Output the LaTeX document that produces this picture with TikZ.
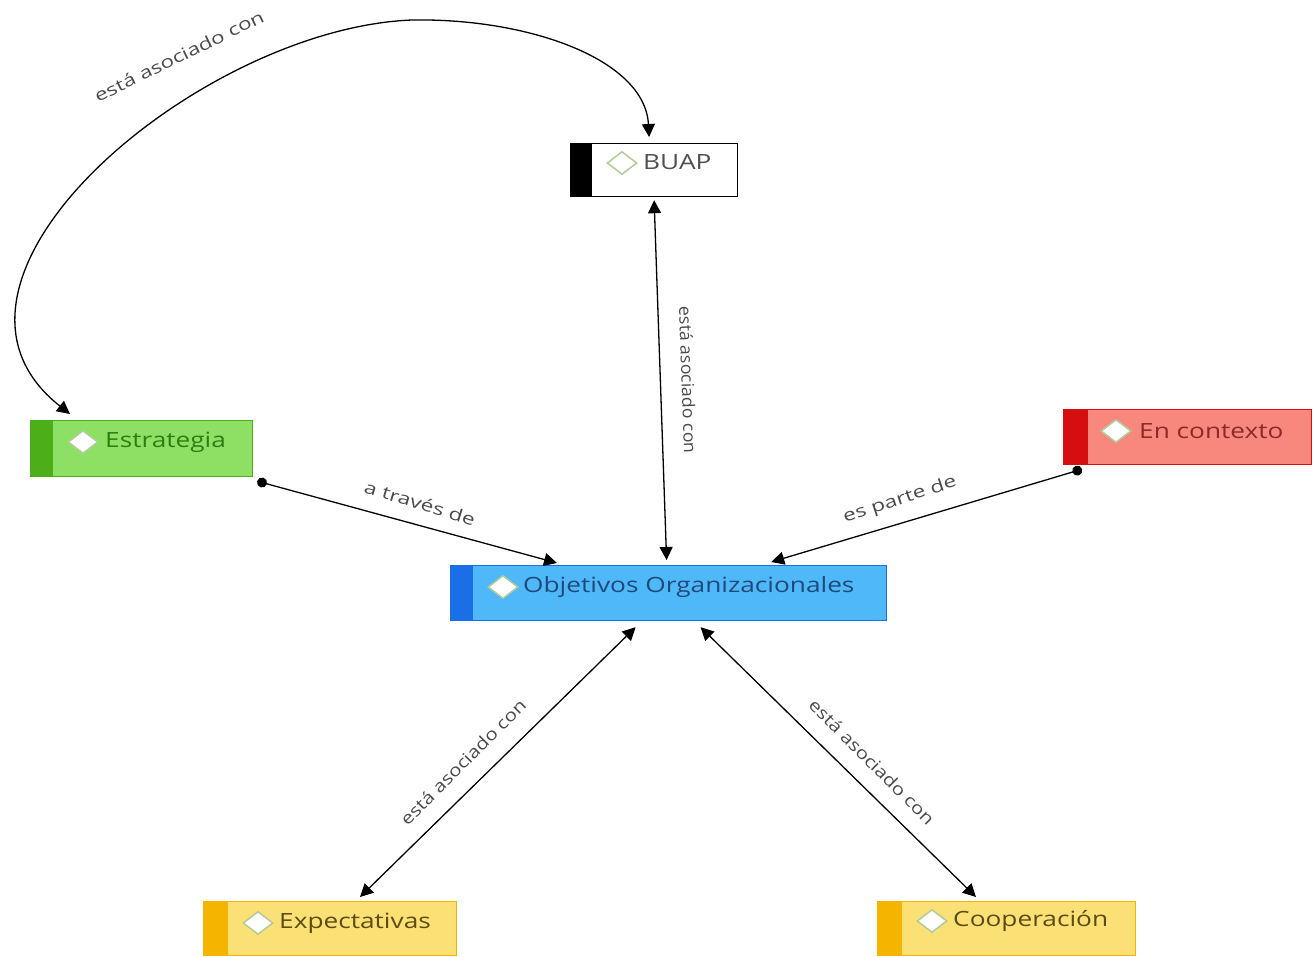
\documentclass[tikz,border=0pt]{standalone}
\usepackage{fontspec}
\usepackage{graphicx}
\setmainfont{Open Sans}
\usetikzlibrary{arrows.meta,shapes.geometric}
\definecolor{estfill}{HTML}{8EE065}
\definecolor{estbar}{HTML}{4CAF1A}
\definecolor{esttxt}{HTML}{2E7D12}
\definecolor{objfill}{HTML}{4FB8F8}
\definecolor{objbar}{HTML}{1A6FE8}
\definecolor{objtxt}{HTML}{1D4A7A}
\definecolor{ctxfill}{HTML}{F8877D}
\definecolor{ctxbar}{HTML}{D50F0F}
\definecolor{ctxtxt}{HTML}{8A2A2A}
\definecolor{yelfill}{HTML}{FBE075}
\definecolor{yelbar}{HTML}{F5B400}
\definecolor{yeltxt}{HTML}{5C4B12}
\definecolor{buaptxt}{HTML}{505050}
\definecolor{diaedge}{HTML}{B2CC98}
\definecolor{lblgray}{HTML}{4A4A4A}
\newcommand\wideTxt[1]{\scalebox{1.25}[1]{#1}}
\newcommand\wideLbl[2]{\scalebox{#1}[1]{#2}}
\begin{document}
\begin{tikzpicture}[x=1pt,y=-1pt,
  box/.style={draw, line width=1.2pt, anchor=north west, inner sep=0pt},
  dia/.style={diamond, draw=diaedge, fill=white, line width=1.5pt, minimum width=30pt, minimum height=23pt, inner sep=0pt},
  ntxt/.style={anchor=west, font=\fontsize{21}{24}\selectfont, inner sep=0pt},
  lbl/.style={font=\fontsize{17}{20}\selectfont, text=lblgray, inner sep=0pt},
  conn/.style={line width=1.3pt, black},
  tip/.tip={Triangle[length=13pt,width=13pt]},
  dot/.tip={Circle[length=10pt]}]
\useasboundingbox (0,0) rectangle (1313,956);
% BUAP
\node[box, fill=white, draw=black, minimum width=167pt, minimum height=53pt] (buap) at (570,143) {};
\fill[black] (buap.north west) rectangle ([xshift=22pt]buap.south west);
\node[dia] (buapd) at (622,163) {};
\node[ntxt, text=buaptxt] (buapt) at (643,162) {\wideTxt{BUAP}};
% Estrategia
\node[box, fill=estfill, draw=estbar, minimum width=222pt, minimum height=56pt] (est) at (30,420) {};
\fill[estbar] (est.north west) rectangle ([xshift=23pt]est.south west);
\node[dia] (estd) at (83,442) {};
\node[ntxt, text=esttxt] (estt) at (105,442) {\wideTxt{Estrategia}};
% Objetivos
\node[box, fill=objfill, draw=objbar, minimum width=436pt, minimum height=55pt] (obj) at (450,565) {};
\fill[objbar] (obj.north west) rectangle ([xshift=23pt]obj.south west);
\node[dia] (objd) at (503,587) {};
\node[ntxt, text=objtxt] (objt) at (523,587) {\wideTxt{Objetivos Organizacionales}};
% En contexto
\node[box, fill=ctxfill, draw=ctxbar, minimum width=248pt, minimum height=55pt] (ctx) at (1063,409) {};
\fill[ctxbar] (ctx.north west) rectangle ([xshift=25pt]ctx.south west);
\node[dia] (ctxd) at (1116,431) {};
\node[ntxt, text=ctxtxt] (ctxt) at (1139,431) {\wideTxt{En contexto}};
% Expectativas
\node[box, fill=yelfill, draw=yelbar, minimum width=253pt, minimum height=54pt] (exp) at (203,901) {};
\fill[yelbar] (exp.north west) rectangle ([xshift=25pt]exp.south west);
\node[dia] (expd) at (258,923) {};
\node[ntxt, text=yeltxt] (expt) at (279,923) {\wideTxt{Expectativas}};
% Cooperacion
\node[box, fill=yelfill, draw=yelbar, minimum width=258pt, minimum height=54pt] (coop) at (877,901) {};
\fill[yelbar] (coop.north west) rectangle ([xshift=25pt]coop.south west);
\node[dia] (coopd) at (932,921) {};
\node[ntxt, text=yeltxt] (coopt) at (953,921) {\wideTxt{Cooperación}};
% connectors
\draw[conn, {tip}-{tip}] ([xshift=40pt,yshift=6pt]est.north west)
  .. controls (-100,280) and (200,28) .. (412,20)
  .. controls (530,18) and (645,60) .. ([xshift=-5pt,yshift=6pt]buap.north);
\draw[conn, {tip}-{tip}] ([yshift=-3pt]buap.south) -- ([xshift=-2pt,yshift=5pt]obj.north);
\draw[conn, {dot}-{tip}] ([xshift=4pt,yshift=-4pt]est.south east) -- ([xshift=107pt,yshift=2pt]obj.north west);
\draw[conn, {dot}-{tip}] ([xshift=19pt,yshift=-4pt]ctx.south west) -- ([xshift=-116pt,yshift=3pt]obj.north east);
\draw[conn, {tip}-{tip}] ([xshift=-33pt,yshift=-6pt]obj.south) -- ([xshift=157pt,yshift=4pt]exp.north west);
\draw[conn, {tip}-{tip}] ([xshift=32pt,yshift=-6pt]obj.south) -- ([xshift=99pt,yshift=4pt]coop.north west);
% labels
\node[lbl, rotate=26] (l1) at (179,56) {\wideLbl{1.32}{está asociado con}};
\node[lbl, rotate=-88] (l2) at (688,380) {\wideLbl{1.04}{está asociado con}};
\node[lbl, rotate=-17] (l3) at (420,503) {\wideLbl{1.33}{a través de}};
\node[lbl, rotate=18] (l4) at (900,500) {\wideLbl{1.33}{es parte de}};
\node[lbl, rotate=45] (l5) at (463,762) {\wideLbl{1.2}{está asociado con}};
\node[lbl, rotate=-45] (l6) at (872,762) {\wideLbl{1.2}{está asociado con}};
\end{tikzpicture}
\end{document}
